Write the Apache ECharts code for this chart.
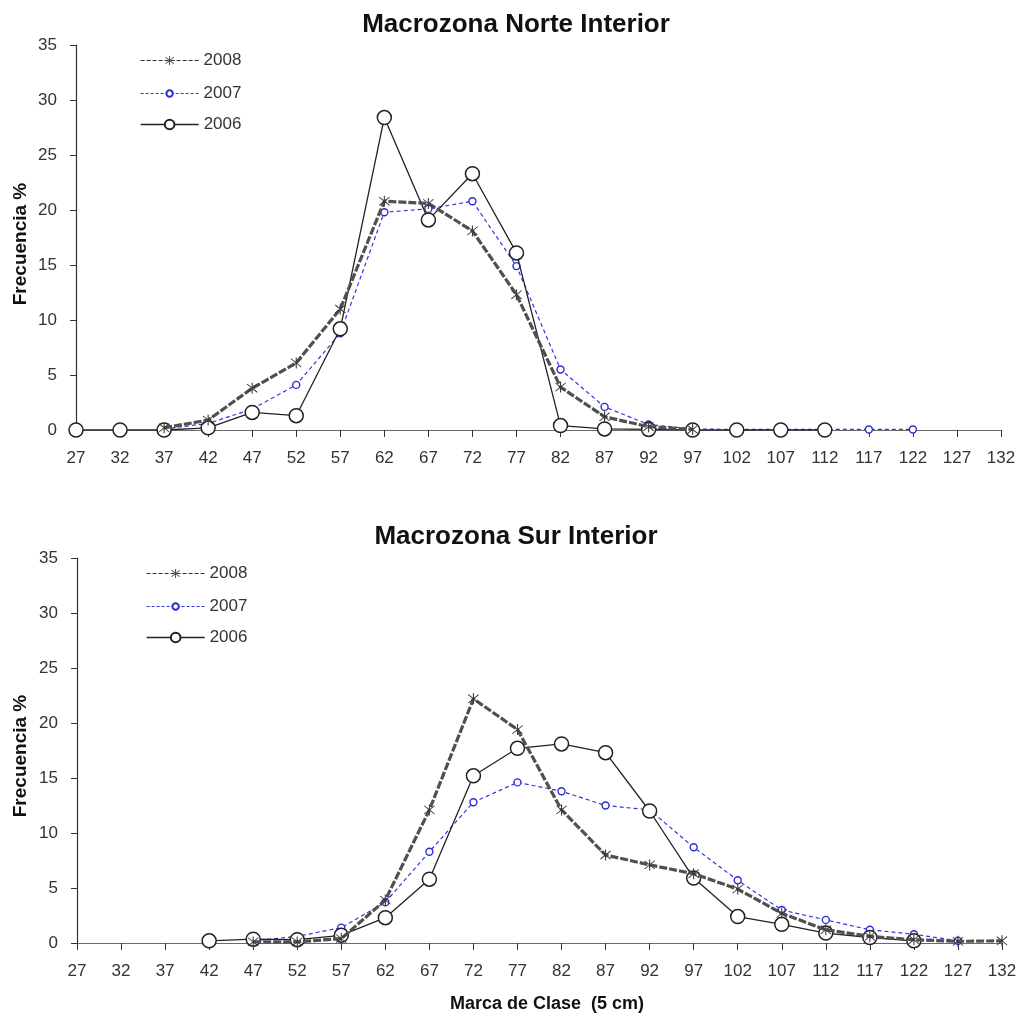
<!DOCTYPE html>
<html>
<head>
<meta charset="utf-8">
<script src="https://cdn.jsdelivr.net/npm/echarts@6/dist/echarts.min.js"></script>
<style>
html,body{margin:0;padding:0;background:#fff;}
#chart{width:1032px;height:1017px;}
</style>
</head>
<body>
<div id="chart"></div>
<script>
// ---- data ----
var categories = ['27','32','37','42','47','52','57','62','67','72','77','82','87','92','97','102','107','112','117','122','127','132'];
var yTicks = [0,5,10,15,20,25,30,35];
var years = ['2008','2007','2006'];
var titles = ['Macrozona Norte Interior','Macrozona Sur Interior'];
var yName = 'Frecuencia %';
var xName = 'Marca de Clase  (5 cm)';

var norte2008 = [null,null,0.2,0.9,3.8,6.1,11.0,20.8,20.6,18.1,12.3,3.9,1.2,0.3,0.05,null,null,null,null,null,null,null];
var norte2007 = [null,null,0.1,0.6,1.9,4.1,8.8,19.8,20.1,20.8,14.9,5.5,2.1,0.5,0.1,0.05,0.05,0.05,0.05,0.05,null,null];
var norte2006 = [0,0,0,0.2,1.6,1.3,9.2,28.4,19.1,23.3,16.1,0.4,0.1,0.05,0,0,0,0,null,null,null,null];

var sur2008 = [null,null,null,null,0.1,0.1,0.4,3.9,12.1,22.2,19.4,12.1,8.0,7.1,6.3,4.9,2.7,1.2,0.6,0.3,0.15,0.2];
var sur2007 = [null,null,null,null,0.2,0.6,1.4,3.7,8.3,12.8,14.6,13.8,12.5,12.1,8.7,5.7,3.0,2.1,1.2,0.8,0.2,null];
var sur2006 = [null,null,null,0.2,0.35,0.3,0.7,2.3,5.8,15.2,17.7,18.1,17.3,12.0,5.9,2.4,1.7,0.9,0.5,0.2,null,null];

// ---- styles ----
var FONT = "'Liberation Sans', Arial, sans-serif";
var asterisk = 'path://M9.2,0L10.8,0L10.8,20L9.2,20Z M1.9,3L3,1.9L18.1,17L17,18.1Z M17,1.9L18.1,3L3,18.1L1.9,17Z';
var grids = [
  {left:76, right:31, top:45, height:385},
  {left:77, right:30, top:558, height:385}
];

function xAxis(i){
  return {
    gridIndex:i, type:'category', data:categories, boundaryGap:false,
    axisLine:{lineStyle:{color:'#6a6a6a', width:1.2}},
    axisTick:{show:true, inside:false, length:7, lineStyle:{color:'#333'}},
    axisLabel:{interval:0, margin:20, fontSize:17, color:'#333', fontFamily:FONT},
    splitLine:{show:false}
  };
}
function yAxis(i){
  return {
    gridIndex:i, type:'value', min:yTicks[0], max:yTicks[yTicks.length-1], interval:yTicks[1]-yTicks[0],
    axisLine:{show:true, lineStyle:{color:'#333', width:1.2}},
    axisTick:{show:true, inside:false, length:6, lineStyle:{color:'#333'}},
    axisLabel:{margin:19, fontSize:17, color:'#333', fontFamily:FONT},
    splitLine:{show:false}
  };
}
function s2008(i, data){
  return {name:years[0], type:'line', xAxisIndex:i, yAxisIndex:i, data:data, z:5,
    symbol:asterisk, symbolSize:11, showAllSymbol:true, connectNulls:false,
    itemStyle:{color:'#3a3a3a'},
    lineStyle:{color:'#505050', width:3.2, type:[8,2]}};
}
function s2007(i, data){
  return {name:years[1], type:'line', xAxisIndex:i, yAxisIndex:i, data:data, z:3,
    symbol:'circle', symbolSize:7, showAllSymbol:true,
    itemStyle:{color:'#fff', borderColor:'#2b2bd6', borderWidth:1.4},
    lineStyle:{color:'#3434e0', width:1.2, type:[4,3]}};
}
function s2006(i, data){
  return {name:years[2], type:'line', xAxisIndex:i, yAxisIndex:i, data:data, z:4,
    symbol:'circle', symbolSize:14, showAllSymbol:true,
    itemStyle:{color:'#fff', borderColor:'#222', borderWidth:1.5},
    lineStyle:{color:'#222', width:1.3, type:'solid'}};
}
function legends(top, left){
  var cfg = [
    {h:11, line:{color:'#333', width:1.2, type:[4,2]}},
    {h:8, line:{color:'#3434e0', width:1.2, type:[3,2]}},
    {h:12, line:{color:'#222', width:1.3, type:'solid'}}
  ];
  var tops = [top, top+33, top+64];
  return years.map(function(y, k){
    return {data:[y], orient:'vertical', left:left, top:tops[k], padding:0,
      itemWidth:58, itemHeight:cfg[k].h, itemGap:5, selectedMode:false,
      lineStyle:cfg[k].line,
      textStyle:{fontSize:17, color:'#333', fontFamily:FONT}};
  });
}

var chart = echarts.init(document.getElementById('chart'), null, {renderer:'canvas'});
chart.setOption({
  animation:false,
  backgroundColor:'#fff',
  title:[
    {text:titles[0], left:'center', top:7, textStyle:{fontSize:26, fontWeight:'bold', color:'#111', fontFamily:FONT}},
    {text:titles[1], left:'center', top:519, textStyle:{fontSize:26, fontWeight:'bold', color:'#111', fontFamily:FONT}}
  ],
  legend: legends(52, 140).concat(legends(565, 146)),
  grid: grids,
  xAxis:[xAxis(0), xAxis(1)],
  yAxis:[yAxis(0), yAxis(1)],
  series:[
    s2007(0, norte2007), s2006(0, norte2006), s2008(0, norte2008),
    s2007(1, sur2007), s2006(1, sur2006), s2008(1, sur2008)
  ],
  graphic:[
    {type:'text', x:21, y:244, rotation:Math.PI/2,
      style:{text:yName, font:"bold 19px "+FONT, fill:'#111', textAlign:'center', textVerticalAlign:'middle'}},
    {type:'text', x:21, y:756, rotation:Math.PI/2,
      style:{text:yName, font:"bold 19px "+FONT, fill:'#111', textAlign:'center', textVerticalAlign:'middle'}},
    {type:'text', x:547, y:1004, 
      style:{text:xName, font:"bold 18px "+FONT, fill:'#111', textAlign:'center', textVerticalAlign:'middle'}}
  ]
});
</script>
</body>
</html>
